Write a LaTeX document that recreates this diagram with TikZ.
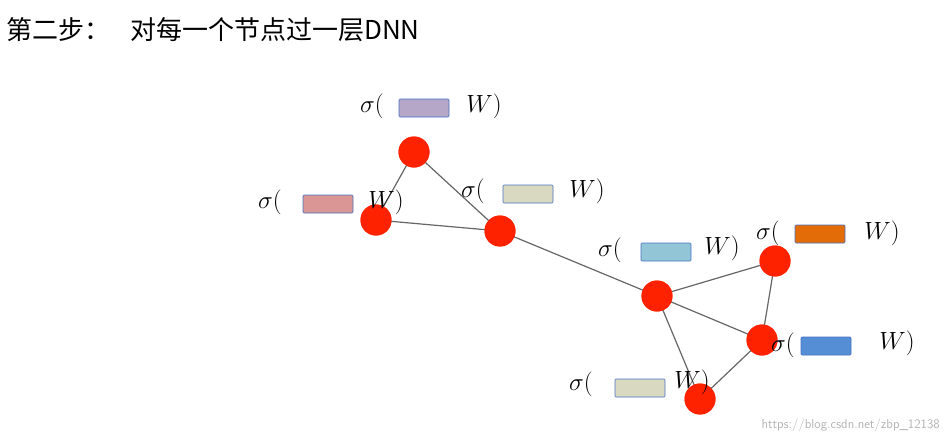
\documentclass[tikz,border=0pt]{standalone}
\usepackage{fontspec}
\newfontfamily\cjk{Noto Sans CJK SC}
\usepackage{amsmath}
\definecolor{nodered}{HTML}{FF2200}
\definecolor{vpurple}{HTML}{B4A7C8}
\definecolor{vpink}{HTML}{D99694}
\definecolor{vbeige}{HTML}{D9D8C1}
\definecolor{vcyan}{HTML}{92C6D6}
\definecolor{vorange}{HTML}{E36C09}
\definecolor{vblue}{HTML}{558ED5}
\definecolor{vborder}{HTML}{4472C4}
\tikzset{
  vertex/.style={circle,fill=nodered,minimum size=31pt,inner sep=0pt},
  edge/.style={draw=black!60,line width=1.2pt},
  vec/.style={draw=vborder,line width=0.6pt,rounded corners=1pt,minimum width=50pt,minimum height=18pt,inner sep=0pt},
  sig/.style={font=\fontsize{32}{32}\selectfont,inner sep=0pt}
}
\begin{document}
\begin{tikzpicture}[x=1pt,y=-1pt]
\useasboundingbox (0,0) rectangle (948,442);
\node[anchor=west,font=\cjk\fontsize{26}{26}\selectfont,inner sep=0pt] (title) at (6,30) {第二步：\hspace{20pt}对每一个节点过一层DNN};
% graph
\node[vertex] (a) at (414,152) {};
\node[vertex] (b) at (376,220) {};
\node[vertex] (c) at (500,231) {};
\node[vertex] (d) at (657,296) {};
\node[vertex] (e) at (775,261) {};
\node[vertex] (f) at (762,340) {};
\node[vertex] (g) at (700,399) {};
\path[edge] (a.center) -- (b.center) (a.center) -- (c.center) (b.center) -- (c.center)
  (c.center) -- (d.center) (d.center) -- (e.center) (d.center) -- (f.center)
  (e.center) -- (f.center) (d.center) -- (g.center) (f.center) -- (g.center);
\foreach \n in {a,b,c,d,e,f,g} \node[vertex] at (\n) {};
% labels
\node[sig] (sa) at (372,106) {$\sigma($};
\node[vec,fill=vpurple] (va) at (424,108) {};
\node[sig] (wa) at (484,106) {$W)$};
\node[sig] (sb) at (270,202) {$\sigma($};
\node[vec,fill=vpink] (vb) at (328,204) {};
\node[sig] (wb) at (386,202) {$W)$};
\node[sig] (sc) at (473,191) {$\sigma($};
\node[vec,fill=vbeige] (vc) at (528,194) {};
\node[sig] (wc) at (587,191) {$W)$};
\node[sig] (sd) at (610,250) {$\sigma($};
\node[vec,fill=vcyan] (vd) at (666,252) {};
\node[sig] (wd) at (722,248) {$W)$};
\node[sig] (se) at (768,233) {$\sigma($};
\node[vec,fill=vorange] (ve) at (820,234) {};
\node[sig] (we) at (882,233) {$W)$};
\node[sig] (sf) at (783,345) {$\sigma($};
\node[vec,fill=vblue] (vf) at (826,346) {};
\node[sig] (wf) at (897,343) {$W)$};
\node[sig] (sg) at (581,384) {$\sigma($};
\node[vec,fill=vbeige] (vg) at (640,388) {};
\node[sig] (wg) at (692,382) {$W)$};
\node[anchor=east,text=black!30,font=\sffamily\fontsize{13}{13}\selectfont,inner sep=0pt] (mark) at (940,425) {https://blog.csdn.net/zbp\_12138};
\end{tikzpicture}
\end{document}
